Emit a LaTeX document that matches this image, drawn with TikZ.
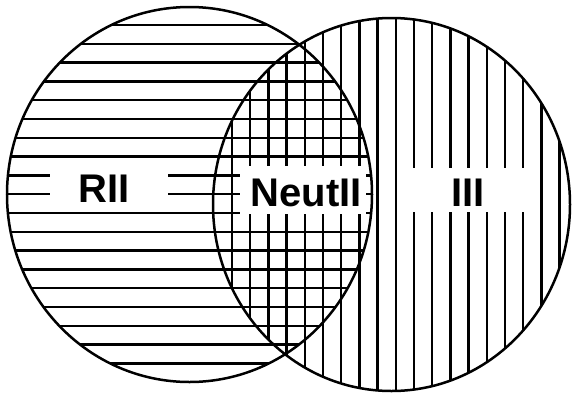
\documentclass[tikz,border=0pt]{standalone}
\usepackage{fontspec}
\setmainfont{Liberation Sans}
\begin{document}
\begin{tikzpicture}[x=1pt,y=-1pt,
  hatch/.style={line width=2.5pt,black},
  rim/.style={line width=2.5pt,black},
  whitebox/.style={fill=white,draw=none,inner sep=0pt},
  lab/.style={inner sep=0pt,font=\fontsize{40}{44}\selectfont\bfseries}]
\useasboundingbox[fill=white] (0,0) rectangle (573,397);
% left circle: horizontal hatching
\begin{scope}
  \clip (189.5,194.5) ellipse [x radius=182.5, y radius=187.5];
  \foreach \k in {0,...,18}
    \draw[hatch] (0,{25+18.8*\k}) -- (573,{25+18.8*\k});
\end{scope}
% right circle: vertical hatching
\begin{scope}
  \clip (391.5,204.5) ellipse [x radius=178.5, y radius=186.5];
  \foreach \k in {0,...,18}
    \draw[hatch] ({232+18.2*\k},0) -- ({232+18.2*\k},397);
\end{scope}
% outlines
\draw[rim] (189.5,194.5) ellipse [x radius=182.5, y radius=187.5];
\draw[rim] (391.5,204.5) ellipse [x radius=178.5, y radius=186.5];
% label boxes
\node[whitebox,minimum width=118pt,minimum height=44pt] (rbox) at (109,185) {};
\node[whitebox,minimum width=126pt,minimum height=48pt] (nbox) at (303,190) {};
\node[whitebox,minimum width=132pt,minimum height=44pt] (ibox) at (471,190) {};
\node[lab] (rii) at (104,189) {RII};
\node[lab] (neut) at (306,192.5) {NeutII};
\node[lab] (iii) at (468,192.5) {III};
\end{tikzpicture}
\end{document}
